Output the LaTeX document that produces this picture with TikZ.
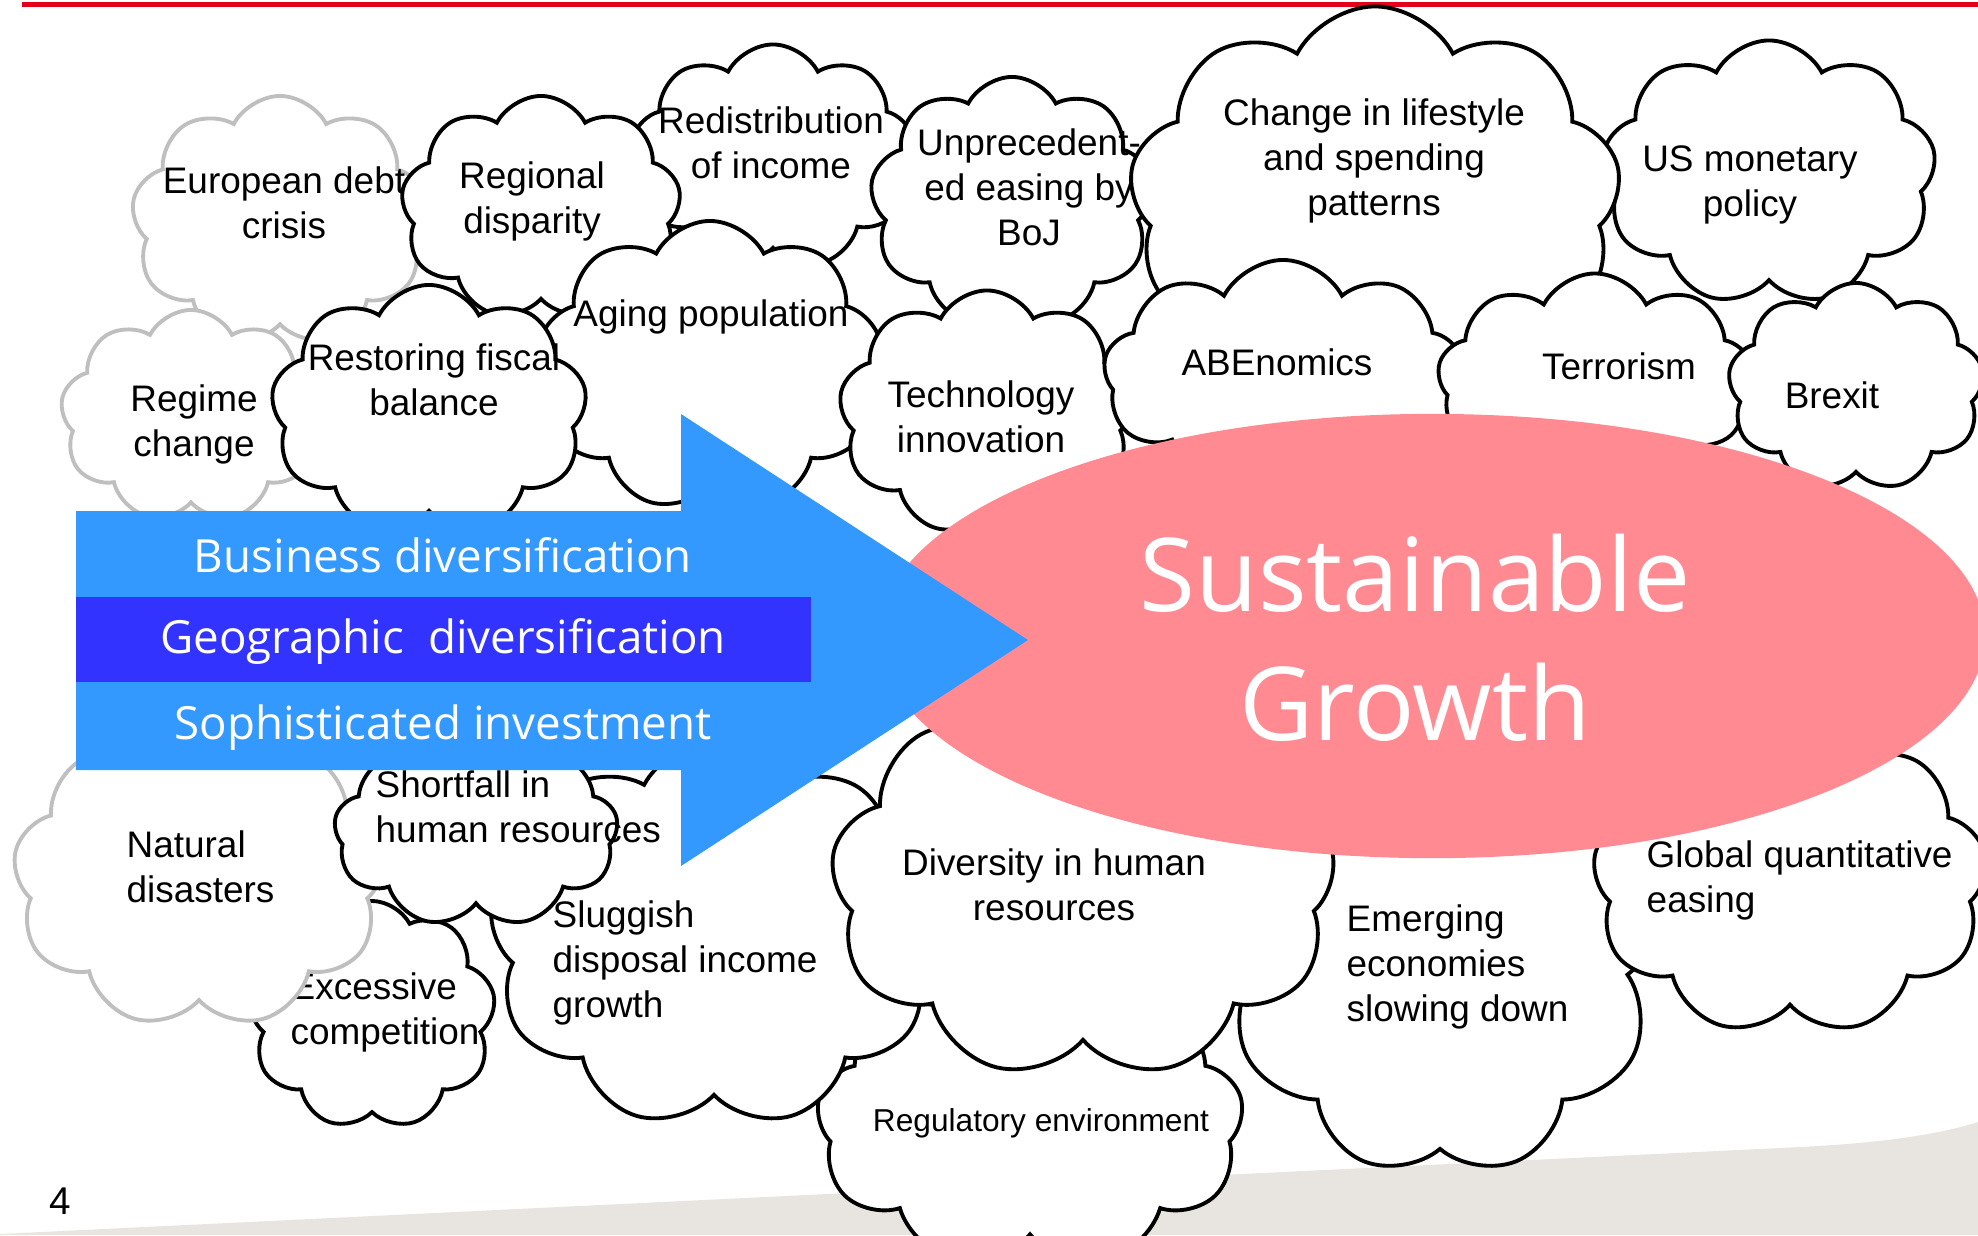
\documentclass[tikz,border=0pt]{standalone}
\usepackage{xcolor}
\definecolor{arrowBlue}{HTML}{3399FF}
\definecolor{bandBlue}{HTML}{3333FF}
\definecolor{growthPink}{HTML}{FF8A92}
\definecolor{topRed}{HTML}{E2001A}
\definecolor{cloudGrey}{HTML}{BFBFBF}
\definecolor{floorGrey}{HTML}{E8E5E0}
\usepackage{fontspec}
\setmainfont{Liberation Sans}
\newfontfamily\opensans{Open Sans}
\usepackage{tikz}
\usetikzlibrary{%
    shapes,
    shapes.symbols,
    shapes.geometric,
    positioning,
    calc
}

\begin{document}
\begin{tikzpicture}[x=0.01cm, y=-0.01cm,
                puff/.style={cloud, cloud puffs=9, cloud puff arc=125, cloud ignores aspect, draw=black, fill=white, line width=1.1pt, inner sep=0pt},
                puffgrey/.style={puff, draw=cloudGrey},
                word/.style={font=\fontsize{10.5}{12.8}\selectfont, align=center, inner sep=0pt},
                wordleft/.style={word, align=left, anchor=west},
                band/.style={font=\opensans\fontsize{13}{15}\selectfont, text=white, inner sep=0pt}
            ]

            \useasboundingbox (0,0) rectangle (1978,1235);

            \fill[floorGrey] (0,1234) -- (1800,1147) .. controls (1900,1142) and (1950,1131) .. (1978,1122) -- (1978,1235) -- (0,1235) -- cycle;
            \draw[topRed, line width=0.05cm] (22,4.5) -- (1978,4.5);

            \node (eudebt) at (280,221) [puffgrey, minimum width=2.97cm, minimum height=2.50cm] {};
            \node (eudebtText) at (284,203) [word] {European debt\\crisis};

            \node (regime) at (191,416) [puffgrey, minimum width=2.61cm, minimum height=2.12cm] {};
            \node (regimeText) at (194,424) [word] {Regime\\change};

            \node (redist) at (773,157) [puff, minimum width=2.84cm, minimum height=2.25cm] {};
            \node (redistText) at (771,143) [word] {Redistribution\\of income};

            \node (regional) at (541,208) [puff, minimum width=2.80cm, minimum height=2.24cm] {};
            \node (regionalText) at (532,201) [word] {Regional\\disparity};

            \node (boj) at (1012,202) [puff, minimum width=2.84cm, minimum height=2.50cm] {};
            \node (bojText) at (1029,187) [word] {Unprecedent-\\ed easing by\\BoJ};

            \node (usmon) at (1769,173) [puff, minimum width=3.34cm, minimum height=2.65cm] {};
            \node (usmonText) at (1750,185) [word] {US monetary\\policy};

            \node (lifestyle) at (1375,199) [puff, minimum width=4.92cm, minimum height=3.85cm] {};
            \node (lifestyleText) at (1374,161) [word] {Change in lifestyle\\and spending\\patterns};

            \node (aging) at (710,366) [puff, minimum width=3.45cm, minimum height=2.90cm] {};

            \node (fiscal) at (429,410) [puff, minimum width=3.16cm, minimum height=2.50cm] {};
            \node (fiscalText) at (434,380) [word] {Restoring fiscal\\balance};

            \node (agingText) at (711,317) [word] {Aging population};

            \node (tech) at (987,413) [puff, minimum width=2.96cm, minimum height=2.45cm] {};
            \node (techText) at (981,417) [word] {Technology\\innovation};

            \node (abe) at (1283,375) [puff, minimum width=3.59cm, minimum height=2.30cm] {};
            \node (abeText) at (1277,362) [word] {ABEnomics};

            \node (terror) at (1595,381) [puff, minimum width=3.15cm, minimum height=2.15cm] {};
            \node (terrorText) at (1619,366) [word] {Terrorism};

            \node (brexit) at (1856,387) [puff, minimum width=2.56cm, minimum height=2.08cm] {};
            \node (brexitText) at (1832,395) [word] {Brexit};

            \node (regulatory) at (1030,1122) [puff, minimum width=4.27cm, minimum height=2.95cm] {};
            \node (regulatoryText) at (1041,1123) [word, font=\fontsize{9}{11}\selectfont] {Regulatory environment};

            \node (emerging) at (1440,938) [puff, minimum width=4.45cm, minimum height=4.75cm] {};
            \node (emergingText) at (1346,967) [wordleft] {Emerging\\economies\\slowing down};

            \node (global) at (1790,880) [puff, minimum width=3.95cm, minimum height=3.10cm] {};
            \node (globalText) at (1646,880) [wordleft] {Global quantitative\\easing};

            \node (sluggish) at (714,935) [puff, minimum width=4.50cm, minimum height=3.85cm] {};
            \node (sluggishText) at (552,963) [wordleft] {Sluggish\\disposal income\\growth};

            \node (excessive) at (372,1015) [puff, minimum width=2.47cm, minimum height=2.28cm] {};
            \node (excessiveText) at (290,1012) [wordleft] {Excessive\\competition};

            \node (natural) at (199,877) [puffgrey, minimum width=3.72cm, minimum height=3.02cm] {};
            \node (naturalText) at (126,867) [wordleft] {Natural\\disasters};

            \node (shortfall) at (476,832) [puff, minimum width=2.84cm, minimum height=1.90cm] {};
            \node (shortfallText) at (375,807) [wordleft] {Shortfall in\\human resources};

            \node (diversity) at (1083,884) [puff, minimum width=5.05cm, minimum height=3.90cm] {};
            \node (diversityText) at (1054,885) [word] {Diversity in human\\resources};

            \node (growth) at (1432,636) [ellipse, fill=growthPink, minimum width=11.06cm, minimum height=4.44cm, inner sep=0pt] {};
            \node (growthText) at (1415,638) [font=\opensans\fontsize{29}{36.7}\selectfont, text=white, align=center] {Sustainable\\Growth};

            \fill[arrowBlue] (76,511) -- (681,511) -- (681,414) -- (1028,640) -- (681,866) -- (681,770) -- (76,770) -- cycle;
            \fill[bandBlue] (76,597) rectangle (811,682);

            \node (business) at (443,555) [band] {Business diversification};
            \node (geographic) at (443,641) [band] {Geographic\ \ diversification};
            \node (sophisticated) at (443,728) [band] {Sophisticated investment};

            \node (pageNo) at (60,1201) [font=\fontsize{11}{13}\selectfont] {4};
        \end{tikzpicture}
\end{document}
